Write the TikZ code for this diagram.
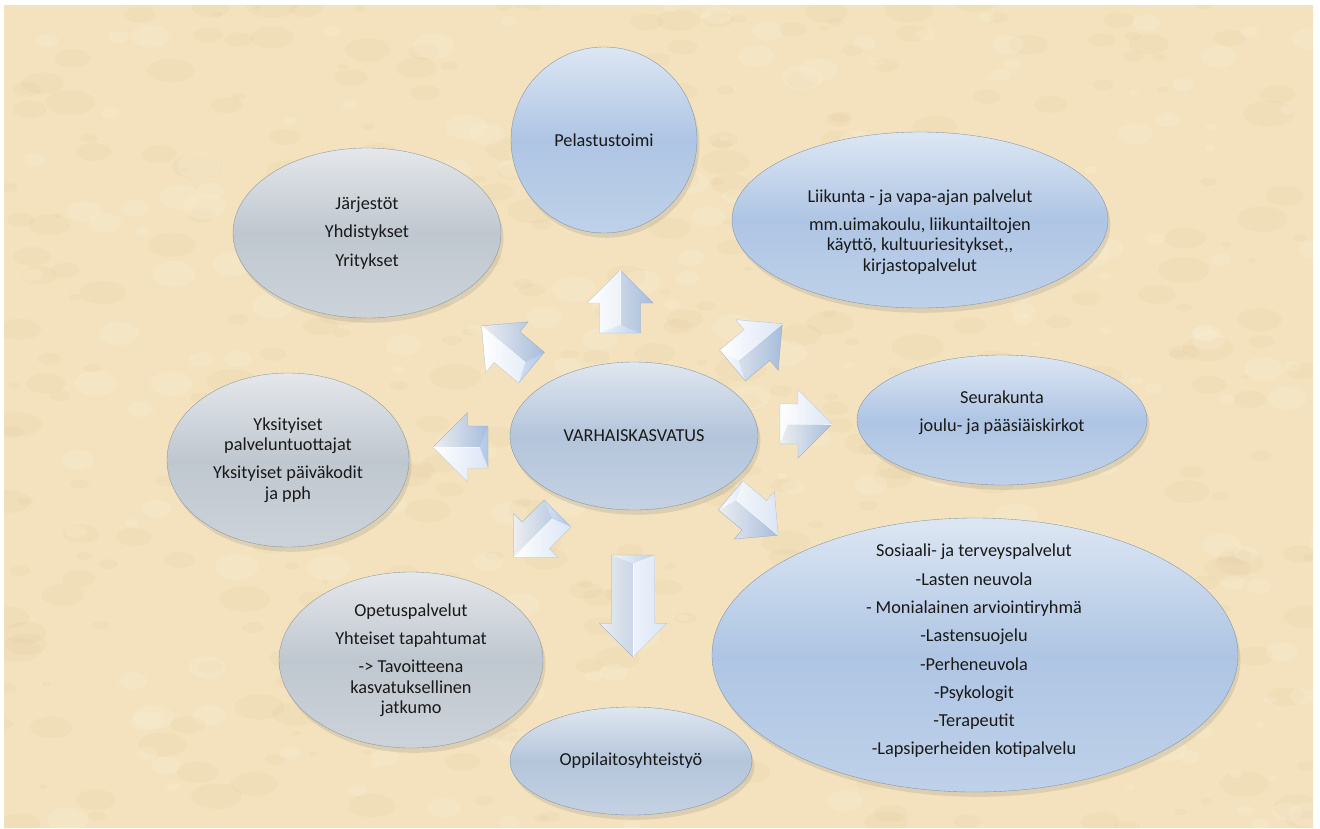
\documentclass[tikz,border=0pt]{standalone}
\usepackage{fontspec}
\setmainfont{Carlito}
\usepackage{tikz}
\usetikzlibrary{shapes.geometric, shadows}

\definecolor{sand}{RGB}{243,226,189}
\definecolor{sandDark}{RGB}{205,174,128}
\definecolor{sandLight}{RGB}{252,243,222}
\definecolor{elBlue}{RGB}{170,194,226}
\definecolor{elGrey}{RGB}{188,196,205}
\definecolor{elMid}{RGB}{176,194,217}
\definecolor{arBlue}{RGB}{176,199,232}

\tikzset{
  bub/.style={ellipse, inner sep=0pt, draw=#1!75!black, line width=0.25pt,
    top color=#1!40!white, bottom color=#1!75!white, middle color=#1!95!white,
    drop shadow={shadow xshift=0.6mm, shadow yshift=-1.2mm, opacity=0.2}},
  lbl/.style={align=center, text=black!90, inner sep=0pt,
    font=\fontsize{13}{14.3}\selectfont},
}

% block arrow: tail point, angle, length, head half width, shaft half width
\newcommand{\bevarrow}[5]{%
  \begin{scope}[shift={(#1)}, rotate=#2]
    \draw[draw=arBlue!70!gray, line width=0.25pt, left color=white, right color=arBlue]
      (0,-#5) -- ({#3-#4},-#5) -- ({#3-#4},-#4) -- (#3,0) -- ({#3-#4},#4)
      -- ({#3-#4},#5) -- (0,#5) -- cycle;
    \fill[white, opacity=0.55] (0,-#5) -- ({#3-#4},-#5) -- ({#3-#4},-#4) -- (#3,0)
      -- ({#3-0.5*#4},0) -- ({0.4*#5},0) -- cycle;
    \fill[arBlue!60!black, opacity=0.12] (0,#5) -- ({#3-#4},#5) -- ({#3-#4},#4) -- (#3,0)
      -- ({#3-0.5*#4},0) -- ({0.4*#5},0) -- cycle;
    \draw[white, line width=0.3pt, opacity=0.8] ({0.4*#5},0) -- ({#3-0.5*#4},0) -- (#3,0);
  \end{scope}}

\begin{document}
\begin{tikzpicture}[x=0.25mm, y=-0.25mm]
  \useasboundingbox (0,0) rectangle (1320,828);
  \fill[white] (0,0) rectangle (1320,828);
  \fill[sand] (4,5) rectangle (1313,828);

  % sand texture
  \begin{scope}
    \clip (4,5) rectangle (1313,828);
    \pgfmathsetseed{11}
    \foreach \i in {1,...,420} {
      \pgfmathsetmacro{\bx}{rnd*1320}
      \pgfmathsetmacro{\by}{rnd*828}
      \pgfmathsetmacro{\br}{4+rnd*22}
      \fill[sandDark, opacity=0.07] (\bx,\by) ellipse ({\br} and {0.5*\br});
    }
    \foreach \i in {1,...,260} {
      \pgfmathsetmacro{\bx}{rnd*1320}
      \pgfmathsetmacro{\by}{rnd*828}
      \pgfmathsetmacro{\br}{4+rnd*18}
      \fill[sandLight, opacity=0.22] (\bx,\by) ellipse ({\br} and {0.6*\br});
    }
  \end{scope}

  % arrows round the centre
  \bevarrow{620,333}{90}{63}{33}{20.5}
  \bevarrow{633,555}{-90}{102}{33.5}{21.5}
  \bevarrow{488,447}{180}{55}{34.5}{21}
  \bevarrow{780,424}{0}{52}{34}{20}
  \bevarrow{531.5,367.6}{140}{65}{33}{20}
  \bevarrow{732.5,365.6}{40}{65}{33}{20}
  \bevarrow{730.5,495.4}{-40}{62}{31}{19}
  \bevarrow{557.6,513.4}{225}{62}{31}{19}

  % ellipses
  \node[bub=elBlue, minimum width=46.5mm, minimum height=46.5mm] (pel) at (604,140) {};
  \node[bub=elBlue, minimum width=94mm, minimum height=44mm] (lii) at (920,220) {};
  \node[bub=elGrey, minimum width=67mm, minimum height=42.5mm] (jar) at (367,233) {};
  \node[bub=elBlue, minimum width=72.5mm, minimum height=32.5mm] (seu) at (1002,420) {};
  \node[bub=elMid, minimum width=62mm, minimum height=37mm] (var) at (634,436) {};
  \node[bub=elGrey, minimum width=60.5mm, minimum height=43.5mm] (yks) at (288,460) {};
  \node[bub=elGrey, minimum width=66mm, minimum height=44mm] (ope) at (411,660) {};
  \node[bub=elMid, minimum width=60.5mm, minimum height=27mm] (opp) at (631,761) {};
  \node[bub=elBlue, minimum width=131.5mm, minimum height=68.5mm] (sos) at (975,655) {};

  % texts
  \node[lbl] (tPel) at (pel) {Pelastustoimi};
  \node[lbl] (tLii) at (920,232) {Liikunta - ja vapa-ajan palvelut\\[5.8pt]
    mm.uimakoulu, liikuntailtojen\\ käyttö, kultuuriesitykset,{},\\ kirjastopalvelut};
  \node[lbl] (tJar) at (jar) {Järjestöt\\[5.8pt] Yhdistykset\\[5.8pt] Yritykset};
  \node[lbl] (tSeu) at (1002,413) {Seurakunta\\[5.8pt] joulu- ja pääsiäiskirkot};
  \node[lbl] (tVar) at (var) {VARHAISKASVATUS};
  \node[lbl] (tYks) at (yks) {Yksityiset\\ palveluntuottajat\\[5.8pt]
    Yksityiset päiväkodit\\ ja pph};
  \node[lbl] (tOpe) at (ope) {Opetuspalvelut\\[5.8pt] Yhteiset tapahtumat\\[5.8pt]
    -> Tavoitteena\\ kasvatuksellinen\\ jatkumo};
  \node[lbl] (tOpp) at (opp) {Oppilaitosyhteistyö};
  \node[lbl] (tSos) at (974,651) {Sosiaali- ja terveyspalvelut\\[5.8pt] -Lasten neuvola\\[5.8pt]
    - Monialainen arviointiryhmä\\[5.8pt] -Lastensuojelu\\[5.8pt] -Perheneuvola\\[5.8pt]
    -Psykologit\\[5.8pt] -Terapeutit\\[5.8pt] -Lapsiperheiden kotipalvelu};
\end{tikzpicture}
\end{document}
